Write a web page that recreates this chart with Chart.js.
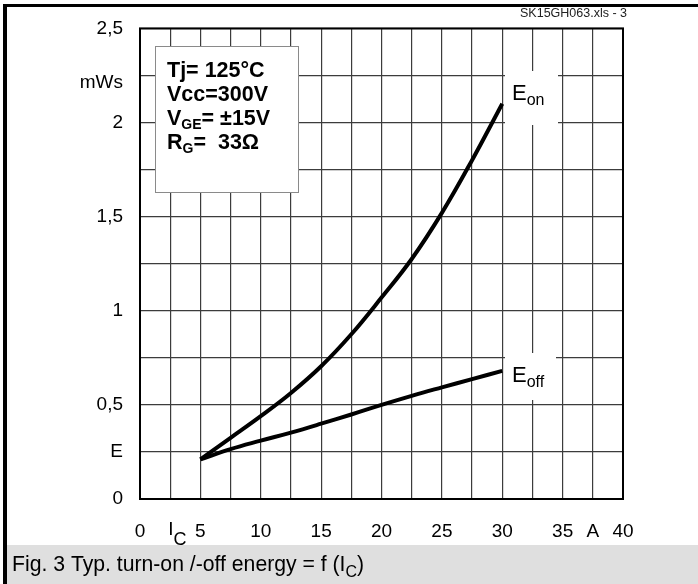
<!DOCTYPE html>
<html>
<head>
<meta charset="utf-8">
<script src="https://cdn.jsdelivr.net/npm/chart.js@4"></script>
<style>
  html, body { margin: 0; padding: 0; background: #fff; }
  canvas { display: block; }
</style>
</head>
<body>
<canvas id="myChart" width="698" height="584"></canvas>
<script>
//-----------------DATOS------------------
// corriente de colector I_C (A)
var ic = [5, 7.5, 10, 12.5, 15, 17.5, 20, 22.5, 25, 27.5, 30];
// energias (mWs)
var eon = [0.21, 0.325, 0.44, 0.563, 0.705, 0.875, 1.07, 1.275, 1.52, 1.8, 2.1];
var eoff = [0.21, 0.265, 0.31, 0.353, 0.40, 0.449, 0.50, 0.548, 0.593, 0.637, 0.681];

// etiquetas de los ejes (una por cada linea de grilla)
var xTickText = ['0', '', '5', '', '10', '', '15', '', '20', '', '25', '', '30', '', '35', 'A', '40'];
var yTickText = ['0', 'E', '0,5', '', '1', '', '1,5', '', '2', '', '2,5'];
var yUnit = 'mWs';

var legendLines = [
    [['Tj= 125°C', 0]],
    [['Vcc=300V', 0]],
    [['V', 0], ['GE', 1], ['= ±15V', 0]],
    [['R', 0], ['G', 1], ['=  33Ω', 0]]
];
var captionText = 'Fig. 3 Typ. turn-on /-off energy = f (I';
var fileText = 'SK15GH063.xls - 3';

var FONT = '"Liberation Sans", Arial, Helvetica, sans-serif';

//-----------------FUNCIONES------------------
function toPoints(xs, ys) {
    var pts = [];
    for (var i = 0; i < xs.length; i++) {
        pts.push({x: xs[i], y: ys[i]});
    }
    return pts;
}

// dibuja texto con subindices: parts = [[texto, esSub], ...]
function drawParts(ctx, x, y, parts, size, subSize, bold, drop) {
    var w = bold ? 'bold ' : '';
    for (var i = 0; i < parts.length; i++) {
        var sub = parts[i][1];
        ctx.font = w + (sub ? subSize : size) + 'px ' + FONT;
        ctx.fillText(parts[i][0], x, sub ? y + drop : y);
        x += ctx.measureText(parts[i][0]).width;
    }
    return x;
}

var extras = {
    id: 'extras',
    beforeDatasetsDraw: function (chart) {
        var ctx = chart.ctx;
        ctx.save();
        // cuadro de condiciones
        ctx.fillStyle = '#fff';
        ctx.fillRect(156, 47, 142, 146);
        ctx.strokeStyle = '#8a8a8a';
        ctx.lineWidth = 1;
        ctx.strokeRect(155.5, 46.5, 143, 146);
        // fondos blancos de las etiquetas de curva
        ctx.fillRect(505, 71, 53, 54);
        ctx.fillRect(505, 353, 51, 47);
        ctx.restore();
    },
    afterDraw: function (chart) {
        var ctx = chart.ctx;
        var a = chart.chartArea;
        var sx = chart.scales.x;
        var sy = chart.scales.y;
        ctx.save();
        // marco del grafico
        ctx.strokeStyle = '#000';
        ctx.lineWidth = 2;
        ctx.strokeRect(a.left, a.top, a.right - a.left, a.bottom - a.top);

        ctx.fillStyle = '#000';
        ctx.textBaseline = 'alphabetic';
        ctx.textAlign = 'left';

        // texto del cuadro
        for (var i = 0; i < legendLines.length; i++) {
            drawParts(ctx, 167, 77 + i * 24, legendLines[i], 21.5, 14, true, 4);
        }

        // etiquetas de curvas
        drawParts(ctx, 512, 100, [['E', 0], ['on', 1]], 22, 16, false, 5);
        drawParts(ctx, 512, 382, [['E', 0], ['off', 1]], 22, 16, false, 5);

        // I_C en el eje x
        var px = sx.getPixelForValue(2.5);
        drawParts(ctx, px - 2, 535, [['I', 0], ['C', 1]], 19, 18, false, 10);

        // unidad del eje y (un poco bajo la linea 2,25)
        ctx.font = '19px ' + FONT;
        ctx.textAlign = 'right';
        ctx.textBaseline = 'middle';
        ctx.fillText(yUnit, 123, sy.getPixelForValue(2.25) + 7);
        ctx.textBaseline = 'alphabetic';

        // archivo
        ctx.font = '12.5px ' + FONT;
        ctx.fillStyle = '#222';
        ctx.fillText(fileText, 627, 17);

        // borde exterior
        ctx.fillStyle = '#000';
        ctx.fillRect(3, 4, 695, 3);
        ctx.fillRect(3, 4, 4, 580);

        // pie de figura
        ctx.fillStyle = '#dfdfdf';
        ctx.fillRect(7, 545, 691, 39);
        ctx.fillStyle = '#000';
        ctx.textAlign = 'left';
        var ex = drawParts(ctx, 12, 571, [[captionText, 0], ['C', 1]], 21.2, 16, false, 6);
        ctx.font = '21.2px ' + FONT;
        ctx.fillText(')', ex, 571);
        ctx.restore();
    }
};

function create_chart() {
    var ctx = document.getElementById('myChart').getContext('2d');
    return new Chart(ctx, {
        type: 'line',
        data: {
            datasets: [{
                label: 'Eon',
                data: toPoints(ic, eon),
                borderColor: '#000',
                borderWidth: 4,
                pointRadius: 0,
                tension: 0.4,
                fill: false
            }, {
                label: 'Eoff',
                data: toPoints(ic, eoff),
                borderColor: '#000',
                borderWidth: 4,
                pointRadius: 0,
                tension: 0.4,
                fill: false
            }]
        },
        options: {
            responsive: false,
            animation: false,
            devicePixelRatio: 1,
            layout: {padding: {left: 0, top: 26, right: 75, bottom: 40}},
            plugins: {
                legend: {display: false},
                tooltip: {enabled: false},
                title: {display: false}
            },
            scales: {
                x: {
                    type: 'linear',
                    min: 0,
                    max: 40,
                    afterFit: function (s) { s.height = 45; },
                    grid: {color: '#3c3c3c', lineWidth: 1.2, drawTicks: false},
                    border: {display: false},
                    ticks: {
                        stepSize: 2.5,
                        maxRotation: 0,
                        autoSkip: false,
                        padding: 21,
                        color: '#000',
                        font: {family: FONT, size: 19},
                        callback: function (v, i) { return xTickText[i]; }
                    }
                },
                y: {
                    type: 'linear',
                    min: 0,
                    max: 2.5,
                    afterFit: function (s) { s.width = 140; },
                    grid: {color: '#3c3c3c', lineWidth: 1.2, drawTicks: false},
                    border: {display: false},
                    ticks: {
                        stepSize: 0.25,
                        autoSkip: false,
                        padding: 17,
                        color: '#000',
                        font: {family: FONT, size: 19},
                        callback: function (v, i) { return yTickText[i]; }
                    }
                }
            }
        },
        plugins: [extras]
    });
}

var myChart = create_chart();
</script>
</body>
</html>
